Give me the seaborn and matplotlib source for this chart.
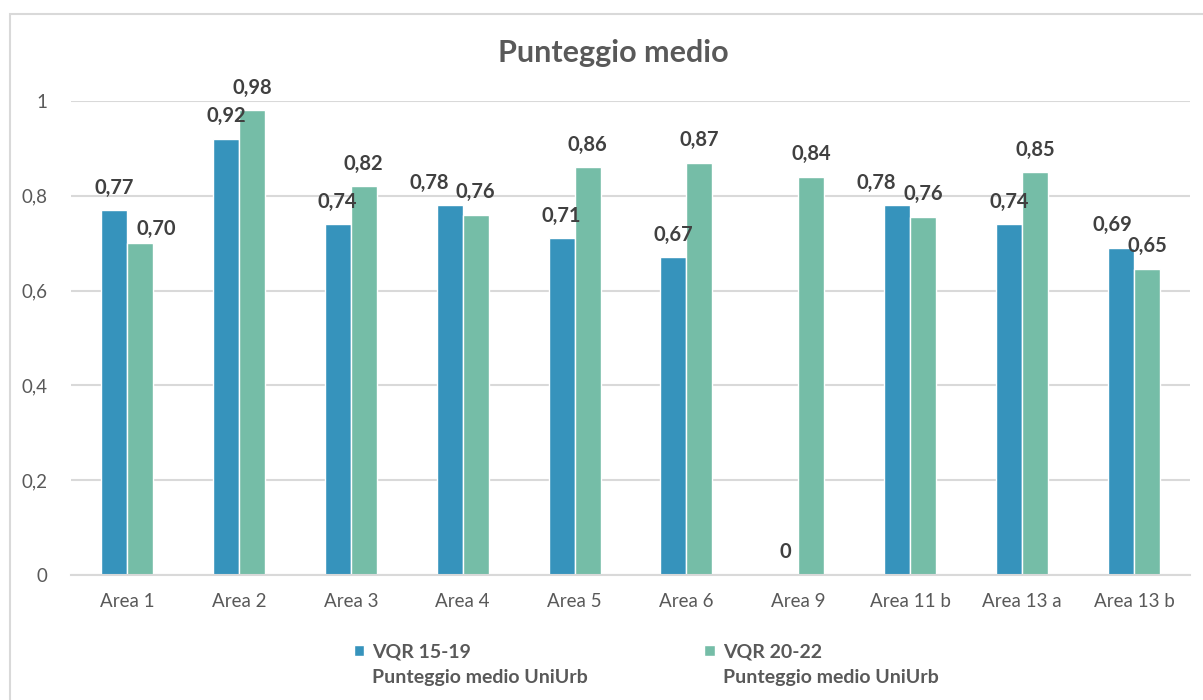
import matplotlib
matplotlib.use("Agg")
import matplotlib.pyplot as plt
from matplotlib.patches import Patch, Rectangle
import seaborn as sns
import pandas as pd

categories = ["Area 1", "Area 2", "Area 3", "Area 4", "Area 5", "Area 6",
              "Area 9", "Area 11 b", "Area 13 a", "Area 13 b"]
vqr_15_19 = [0.77, 0.92, 0.74, 0.78, 0.71, 0.67, 0.0, 0.78, 0.74, 0.69]
vqr_20_22 = [0.70, 0.98, 0.82, 0.76, 0.86, 0.87, 0.84, 0.756, 0.85, 0.646]
series_names = ["VQR 15-19\nPunteggio medio UniUrb", "VQR 20-22\nPunteggio medio UniUrb"]
yticks = [0, 0.2, 0.4, 0.6, 0.8, 1.0]
ytick_labels = ["0", "0,2", "0,4", "0,6", "0,8", "1"]
title = "Punteggio medio"

colors = ["#3693BC", "#75BDA7"]
text_gray = "#595959"
label_gray = "#404040"

df = pd.DataFrame({
    "Area": categories * 2,
    "Serie": [series_names[0]] * len(categories) + [series_names[1]] * len(categories),
    "Valore": vqr_15_19 + vqr_20_22,
})

sns.set_theme(style="white")
plt.rcParams["font.family"] = ["Lato", "DejaVu Sans"]

fig = plt.figure(figsize=(12.03, 7.0), dpi=100)
ax = fig.add_axes([71 / 1203, 1 - 575 / 700, (1190 - 71) / 1203, (575 - 101) / 700])

sns.barplot(data=df, x="Area", y="Valore", hue="Serie", palette=colors,
            width=0.465, gap=0, saturation=1, ax=ax, legend=False, errorbar=None)

ax.set_ylim(0, 1.0)
ax.set_xlim(-0.5, len(categories) - 0.5)
ax.set_yticks(yticks)
ax.set_yticklabels(ytick_labels)
ax.set_xlabel("")
ax.set_ylabel("")
ax.yaxis.grid(True, color="#D9D9D9", linewidth=1.5)
ax.set_axisbelow(True)
for s in ["left", "right", "top"]:
    ax.spines[s].set_visible(False)
ax.spines["bottom"].set_color("#D9D9D9")
ax.spines["bottom"].set_linewidth(1.5)
ax.tick_params(axis="both", length=0, colors=text_gray, labelsize=13.5)
ax.tick_params(axis="y", pad=17)
ax.tick_params(axis="x", pad=13)


def fmt(v):
    if v == 0:
        return "0"
    return f"{v:.2f}".replace(".", ",")


PAD = 9
label_sets = []
for cont, vals in zip(ax.containers, [vqr_15_19, vqr_20_22]):
    anns = ax.bar_label(cont, labels=[fmt(v) for v in vals], padding=PAD,
                        fontsize=14.5, fontweight="bold", color=label_gray)
    label_sets.append(anns)

# nudge labels of neighbouring bars apart, as the original chart does
for i, (b, g) in enumerate(zip(vqr_15_19, vqr_20_22)):
    d = b - g
    if b == 0 or g == 0:
        continue
    if abs(d) < 0.03:
        label_sets[0][i].xyann = (-15, PAD)
    elif 0.03 <= d < 0.05:
        label_sets[0][i].xyann = (-6.5, PAD)
    elif 0.05 <= d < 0.08:
        label_sets[1][i].xyann = (11.5, 3)

fig.text(613 / 1203, 1 - 53 / 700, title, ha="center", va="center",
         fontsize=22, fontweight="bold", color=text_gray)

handles = [Patch(facecolor=colors[0]), Patch(facecolor="none", edgecolor="none"),
           Patch(facecolor=colors[1]), Patch(facecolor="none", edgecolor="none")]
labels = [series_names[0].split("\n")[0], series_names[0].split("\n")[1],
          series_names[1].split("\n")[0], series_names[1].split("\n")[1]]
leg = fig.legend(handles, labels, ncol=2, loc="upper left",
                 bbox_to_anchor=(336 / 1203, 1 - 626 / 700), frameon=False,
                 handlelength=0.55, handleheight=0.55, handletextpad=0.4,
                 columnspacing=6.0, labelspacing=0.45,
                 prop={"size": 14, "weight": "bold"})
for t in leg.get_texts():
    t.set_color(text_gray)

rect = Rectangle((10 / 1203, -0.1), 2, (1 - 14 / 700) + 0.1, transform=fig.transFigure,
                 fill=False, edgecolor="#D9D9D9", linewidth=1.5, clip_on=False)
fig.patches.append(rect)

fig.savefig("out.png", dpi=100)
